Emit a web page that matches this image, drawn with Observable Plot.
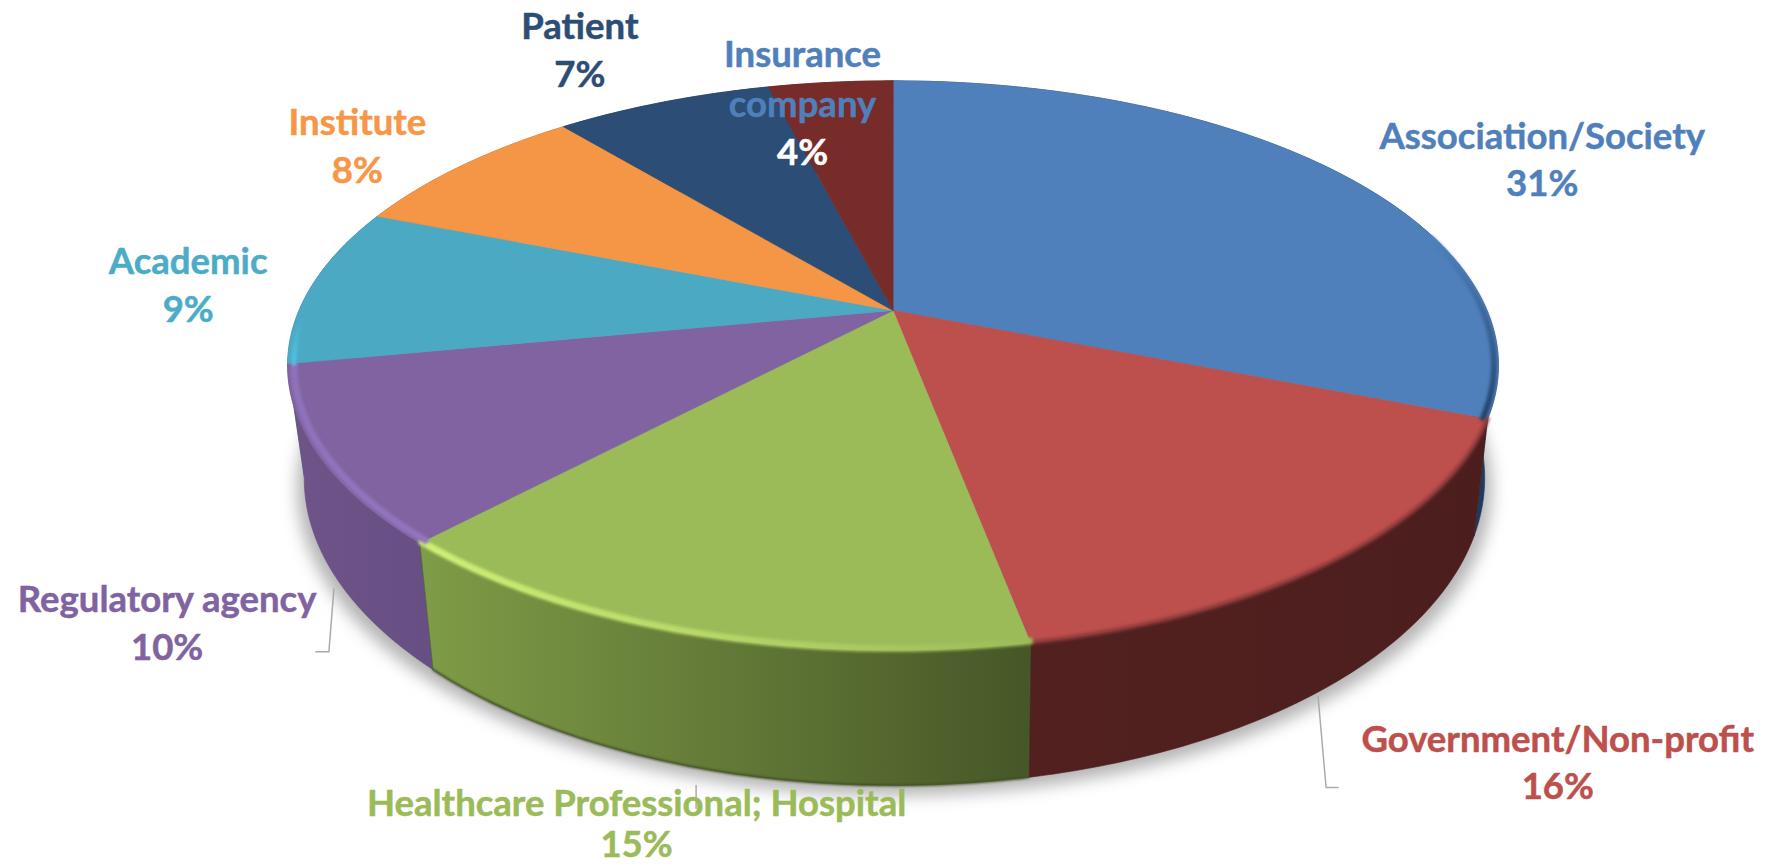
<!DOCTYPE html>
<html>
<head>
<meta charset="utf-8">
<script src="https://cdn.jsdelivr.net/npm/d3@7"></script>
<script src="https://cdn.jsdelivr.net/npm/@observablehq/plot@0.6"></script>
<style>html,body{margin:0;padding:0;background:#fff}svg{display:block}</style>
</head>
<body>
<div id="chart"></div>
<script>
const sliceNames = ["Association/Society","Government/Non-profit","Healthcare Professional; Hospital","Regulatory agency","Academic","Institute","Patient","Insurance\ncompany"];
const sliceValues = [31,16,15,10,9,8,7,4];
const faceColors = ["#4F80BC","#BD4F4C","#9BBB59","#8063A0","#4BA9C4","#F59646","#2C4D75","#772C2A"];
const labelColors = ["#4F80BC","#BD4F4C","#9BBB59","#8063A0","#4BACC6","#F79646","#2C4D75","#4F80BC"];
const percentColors = ["#4F80BC","#BD4F4C","#9BBB59","#8063A0","#4BACC6","#F79646","#2C4D75","#FFFFFF"];
// wall paint: gradient start and end per slice
const wallColors = [["#1E3B5F","#1E3B5F"],["#52211F","#4B1E1D"],["#7F9C47","#465727"],["#6E5489","#684F83"],["#2E7488","#2E7488"],["#A4632D","#A4632D"],["#1D334E","#1D334E"],["#4F1D1C","#4F1D1C"]];
// bevel paint along the top edge: colour near the front and near the far end
const rimColors = [["#23436B","#4F80BC"],["#8A3A38","#8A3A38"],["#CFEF76","#9BBB59"],["#9274BF","#8F71BA"],["#52C4E4","#4BA9C4"],null,null,null];
// label offsets from the rim point at each slice's middle angle, px
const labelOffsets = [[206,-12],[220,204],[-53,194],[-152,167],[-124,0],[-104,-20],[-83,-52],[-28,46]];
// percent labels that sit a little closer to their name, px
const percentLift = [0,0,7,0,0,0,0,0];
// leader lines: offsets from the rim point on the lower edge
const leaderOffsets = [null,[[-10,10],[-2,101],[10,101]],[[0,18],[0,41]],[[-1,13],[-6,76],[-19,76]],null,null,null,null];

// view of the tilted disc
const hub = {x: 892.5, y: 310}, tilt = {a: 594, b: 274, k: 0.193};
const top3d = (t, r = 1) => {
  const a = 2 * Math.PI * t, u = r * Math.sin(a), v = r * Math.cos(a), w = 1 + tilt.k * v;
  return [hub.x + tilt.a * u / w, hub.y - tilt.b * v / w];
};
const lower = ([x, y]) => [950 + 0.975 * (x - 950), 537 + 1.08 * (y - 420)];
const total = d3.sum(sliceValues);
const starts = d3.cumsum([0, ...sliceValues]).map(d => d / total);
const arc = (t0, t1, r = 1) => {
  const n = Math.max(2, Math.ceil((t1 - t0) * 500));
  return d3.range(n + 1).map(i => top3d(t0 + (t1 - t0) * i / n, r));
};
const wallPts = i => { const a = arc(starts[i], starts[i + 1]); return [...a, ...a.slice().reverse().map(lower)]; };
const facePts = i => [[hub.x, hub.y], ...arc(starts[i], starts[i + 1])];
const midT = i => (starts[i] + starts[i + 1]) / 2;
const labelPoint = i => { const p = top3d(midT(i)); return [p[0] + labelOffsets[i][0], p[1] + labelOffsets[i][1]]; };

const poly = (pts, fill, extra = {}) => Plot.line(pts, {x: d => d[0], y: d => d[1], curve: "linear-closed", fill, stroke: fill, strokeWidth: 0.6, ...extra});

const defs = () => {
  const svg = d3.create("svg:defs");
  const grad = (id, c0, c1, x2, y2) => {
    const g = svg.append("linearGradient").attr("id", id).attr("x1", 0).attr("y1", 0).attr("x2", x2).attr("y2", y2);
    g.append("stop").attr("offset", 0).attr("stop-color", c0);
    g.append("stop").attr("offset", 1).attr("stop-color", c1);
  };
  wallColors.forEach((c, i) => grad("wall" + i, c[0], c[1], 1, 0));
  grad("rim0", rimColors[0][1], rimColors[0][0], 0, 1);
  grad("rim1", rimColors[1][0], rimColors[1][1], 1, 0);
  grad("rim2", rimColors[2][0], rimColors[2][1], 1, 0);
  grad("rim3", rimColors[3][1], rimColors[3][0], 0, 1);
  grad("rim4", rimColors[4][1], rimColors[4][0], 0, 1);
  return svg.node();
};

const wallOrder = [0, 7, 6, 5, 4, 3, 1, 2];
const rimRadius = [0.993, 1, 0.996, 0.99, 0.99];
const rimWidth = [6, 4, 7, 7, 5];
const rimSpan = [[0.205, 0.31], [0.31, 0.47], [0.47, 0.62], [0.62, 0.72], [0.72, 0.745]];
const shadowPts = arc(0, 1).map(lower).map(([x, y]) => [893 + 1.012 * (x - 893), y + 10]);

const marks = [
  defs,
  poly(shadowPts, "#b4b4b4", {imageFilter: "blur(8px)", strokeWidth: 0}),
  ...wallOrder.map(i => poly(wallPts(i), `url(#wall${i})`, {stroke: wallColors[i][1]})),
  Plot.line(arc(0.47, 0.62).map(lower), {x: d => d[0], y: d => d[1], stroke: "#3f4f22", strokeWidth: 2, imageFilter: "blur(1px)"}),
  ...sliceValues.map((_, i) => poly(facePts(i), faceColors[i])),
  ...rimSpan.map(([a, b], i) => Plot.line(arc(a, b, rimRadius[i]), {
    x: d => d[0], y: d => d[1], stroke: `url(#rim${i})`, strokeWidth: rimWidth[i], imageFilter: "blur(1.8px)"
  })),
  ...leaderOffsets.flatMap((off, i) => {
    if (!off) return [];
    const base = lower(top3d(midT(i)));
    return [Plot.line(off.map(o => [base[0] + o[0], base[1] + o[1]]), {x: d => d[0], y: d => d[1], stroke: "#ababab", strokeWidth: 1.5})];
  }),
  ...sliceNames.flatMap((name, i) => {
    const p = labelPoint(i);
    const common = {x: d => d[0], y: d => d[1], fontFamily: "Lato", fontWeight: 700, fontSize: 36.5, textAnchor: "middle", strokeWidth: 0.5};
    return [
      Plot.text([p], {...common, text: () => name, fill: labelColors[i], stroke: labelColors[i], lineAnchor: "bottom", lineHeight: 1.37, dy: -11}),
      Plot.text([p], {...common, text: () => sliceValues[i] + "%", fill: percentColors[i], stroke: percentColors[i], lineAnchor: "top", dy: 11 - percentLift[i]})
    ];
  })
];

document.getElementById("chart").append(Plot.plot({
  width: 1770, height: 866, margin: 0,
  x: {domain: [0, 1770], range: [0, 1770], axis: null},
  y: {domain: [0, 866], range: [0, 866], axis: null},
  style: {background: "#fff"},
  marks
}));
</script>
</body>
</html>
